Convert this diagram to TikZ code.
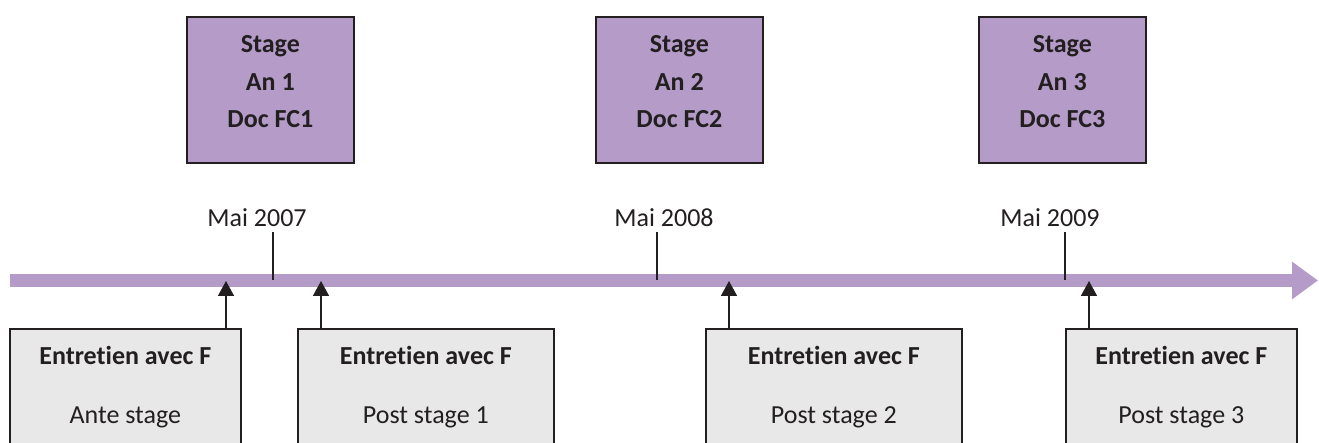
\documentclass[tikz,border=0pt]{standalone}
\usepackage{fontspec}
\setmainfont{Carlito}[Ligatures={NoCommon,NoRare,NoContextual}]
\usetikzlibrary{arrows.meta}
\definecolor{lilac}{HTML}{B49BC8}
\definecolor{boxgray}{HTML}{E8E8E8}
\definecolor{ink}{HTML}{231F20}
\begin{document}
\begin{tikzpicture}[x=1pt,y=-1pt,
  stagebox/.style={draw=ink, line width=1.6pt, fill=lilac, minimum width=167pt, minimum height=146pt, anchor=north west, inner sep=0pt},
  talkbox/.style={draw=ink, line width=1.6pt, fill=boxgray, minimum height=160pt, anchor=north west, inner sep=0pt},
  boldtxt/.style={font=\fontsize{26}{30}\selectfont\bfseries, text=ink, anchor=base, inner sep=0pt},
  plaintxt/.style={font=\fontsize{26}{30}\selectfont, text=ink, anchor=base, inner sep=0pt},
  timeline/.style={draw=lilac, line width=13pt, -{Triangle[length=26pt,width=36pt]}},
  tick/.style={draw=ink, line width=1.5pt},
  up/.style={draw=ink, line width=1.6pt, -{Triangle[length=15pt,width=16pt]}}
]
\useasboundingbox (0,0) rectangle (1319,443);
\clip (0,0) rectangle (1319,443);

% stage boxes
\foreach \i/\x in {1/186,2/595,3/978}{
  \node[stagebox] (s\i) at (\x,16) {};
  \node[boldtxt] (s\i a) at (s\i.north |- 0,53) {Stage};
  \node[boldtxt] (s\i b) at (s\i.north |- 0,91) {An \i};
  \node[boldtxt] (s\i c) at (s\i.north |- 0,128) {Doc FC\i};
}

% timeline
\coordinate (tl0) at (10,280.5);
\coordinate (tl1) at (1318,280.5);
\draw[timeline] (tl0) -- (tl1);

% ticks and dates
\foreach \i/\x/\lx/\y in {1/273/257/2007,2/657/664/2008,3/1065/1050/2009}{
  \node[plaintxt] (d\i) at (\lx,227) {Mai \y};
  \coordinate (m\i) at (\x,280.5);
  \draw[tick] (m\i |- 0,232) -- (m\i);
}

% interview boxes
\node[talkbox, minimum width=231pt] (g1) at (9,328) {};
\node[talkbox, minimum width=256pt] (g2) at (297,328) {};
\node[talkbox, minimum width=256pt] (g3) at (705,328) {};
\node[talkbox, minimum width=231pt] (g4) at (1065,328) {};
\foreach \i/\t in {1/Ante stage,2/Post stage 1,3/Post stage 2,4/Post stage 3}{
  \node[boldtxt] (g\i a) at (g\i.north |- 0,364) {Entretien avec F};
  \node[plaintxt] (g\i b) at (g\i.north |- 0,423) {\t};
}

% arrows from boxes to timeline
\foreach \i/\x in {1/226,2/321,3/729,4/1089}{
  \coordinate (p\i) at (\x,281);
  \draw[up] (p\i |- g\i.north) -- (p\i);
}
\end{tikzpicture}
\end{document}
